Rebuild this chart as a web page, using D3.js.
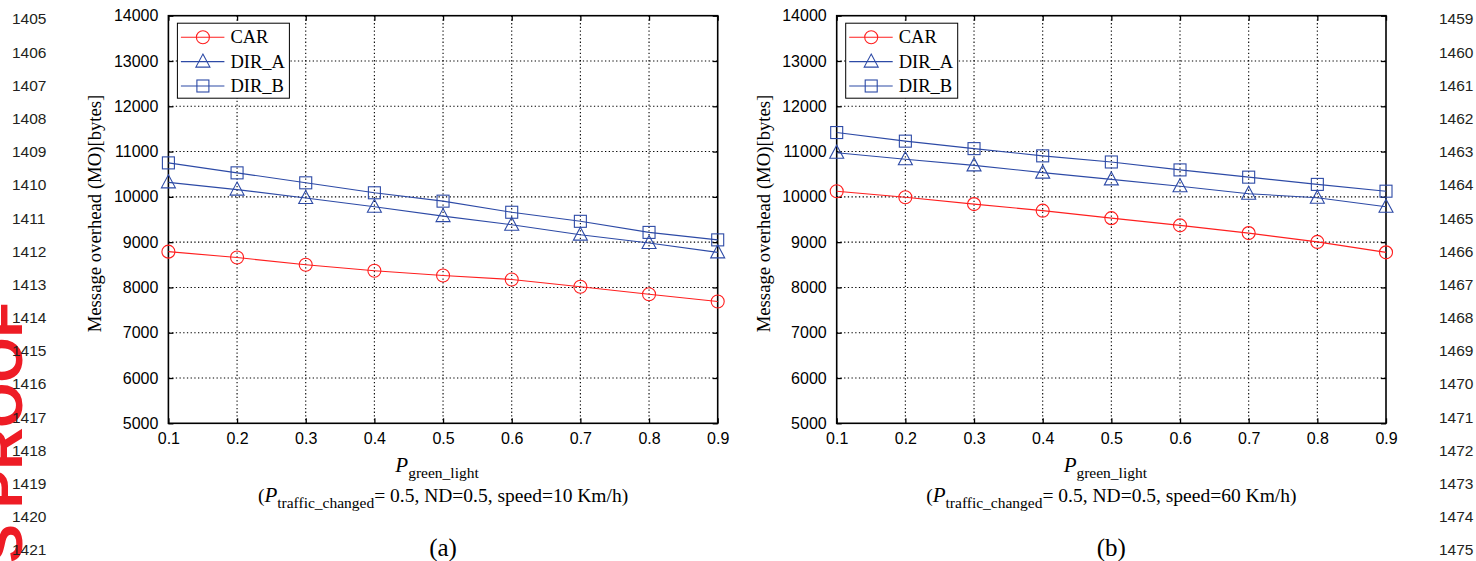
<!DOCTYPE html>
<html>
<head>
<meta charset="utf-8">
<script src="https://cdn.jsdelivr.net/npm/d3@7"></script>
<style>
  html, body { margin: 0; padding: 0; background: #fff; }
  svg { display: block; }
</style>
</head>
<body>
<svg id="fig" width="1476" height="561"></svg>
<script>
// ---- data ----
const pGreen = [0.1, 0.2, 0.3, 0.4, 0.5, 0.6, 0.7, 0.8, 0.9];
const xTicks = [0.1, 0.2, 0.3, 0.4, 0.5, 0.6, 0.7, 0.8, 0.9];
const yTicks = [5000, 6000, 7000, 8000, 9000, 10000, 11000, 12000, 13000, 14000];

// speed = 10 Km/h
const carSlow  = [8790, 8660, 8500, 8370, 8265, 8175, 8015, 7850, 7690];
const dirASlow = [10320, 10160, 9975, 9780, 9575, 9385, 9165, 8980, 8775];
const dirBSlow = [10750, 10530, 10310, 10090, 9905, 9660, 9460, 9215, 9050];

// speed = 60 Km/h
const carFast  = [10125, 9990, 9840, 9695, 9530, 9370, 9200, 9005, 8775];
const dirAFast = [10975, 10830, 10695, 10535, 10385, 10235, 10070, 9980, 9780];
const dirBFast = [11420, 11230, 11065, 10905, 10770, 10595, 10435, 10275, 10125];

const seriesNames = ["CAR", "DIR_A", "DIR_B"];
const leftLineNos = [1405, 1406, 1407, 1408, 1409, 1410, 1411, 1412, 1413, 1414, 1415, 1416, 1417, 1418, 1419, 1420, 1421];
const rightLineNos = [1459, 1460, 1461, 1462, 1463, 1464, 1465, 1466, 1467, 1468, 1469, 1470, 1471, 1472, 1473, 1474, 1475];

// ---- style ----
const RED = "#ff1f1f";
const BLUE = "#2d4aa6";
const SERIF = "'Liberation Serif', 'Times New Roman', serif";
const SANS = "'Liberation Sans', Arial, Helvetica, sans-serif";

const svg = d3.select("#fig");

// margin line numbers
function lineNumbers(nums, x, anchor) {
  const ys = d3.scaleLinear().domain([0, nums.length - 1]).range([19, 550]);
  svg.append("g").selectAll("text").data(nums).join("text")
    .attr("x", x).attr("y", (d, i) => ys(i))
    .attr("dy", "0.35em")
    .attr("text-anchor", anchor)
    .attr("font-family", SANS).attr("font-size", 15.5)
    .attr("fill", "#231f20")
    .text(d => d);
}

// proof stamp along the left edge
svg.append("text")
  .attr("transform", "translate(22,302) rotate(-90)")
  .attr("text-anchor", "end")
  .attr("font-family", SANS)
  .attr("font-size", 58)
  .attr("font-weight", "bold")
  .attr("fill", "#ee1c25")
  .text("AUTHOR'S PROOF");

lineNumbers(leftLineNos, 12, "start");
lineNumbers(rightLineNos, 1439, "start");

function marker(g, type, color) {
  if (type === "circle") {
    g.append("circle").attr("r", 6.5);
  } else if (type === "triangle") {
    g.append("path").attr("d", "M0,-7.5L7,5.5L-7,5.5Z");
  } else {
    g.append("rect").attr("x", -6).attr("y", -6).attr("width", 12).attr("height", 12);
  }
  g.selectAll("*").attr("fill", "none").attr("stroke", color).attr("stroke-width", 1.1);
}

function panel(opts) {
  const { x0, x1, y0, y1, series, speed, tag } = opts;
  const x = d3.scaleLinear().domain([0.1, 0.9]).range([x0, x1]);
  const y = d3.scaleLinear().domain([5000, 14000]).range([y1, y0]);
  const g = svg.append("g");

  // dotted grid
  g.append("g").selectAll("line").data(xTicks.slice(1, -1)).join("line")
    .attr("x1", d => x(d)).attr("x2", d => x(d)).attr("y1", y0).attr("y2", y1)
    .attr("stroke", "#000").attr("stroke-width", 1.1).attr("stroke-dasharray", "1.3,2.4");
  g.append("g").selectAll("line").data(yTicks.slice(1, -1)).join("line")
    .attr("y1", d => y(d)).attr("y2", d => y(d)).attr("x1", x0).attr("x2", x1)
    .attr("stroke", "#000").attr("stroke-width", 1.1).attr("stroke-dasharray", "1.3,2.4");

  // axes with inward ticks
  const fmtY = d3.format("d");
  const ax = [
    g.append("g").attr("transform", `translate(0,${y1})`)
      .call(d3.axisBottom(x).tickValues(xTicks).tickSize(-5).tickPadding(9).tickFormat(d3.format(".1f"))),
    g.append("g").attr("transform", `translate(0,${y0})`)
      .call(d3.axisTop(x).tickValues(xTicks).tickSize(-5).tickFormat("")),
    g.append("g").attr("transform", `translate(${x0},0)`)
      .call(d3.axisLeft(y).tickValues(yTicks).tickSize(-5).tickPadding(10).tickFormat(fmtY)),
    g.append("g").attr("transform", `translate(${x1},0)`)
      .call(d3.axisRight(y).tickValues(yTicks).tickSize(-5).tickFormat(""))
  ];
  ax.forEach(a => {
    a.select(".domain").remove();
    a.selectAll(".tick line").attr("stroke", "#000").attr("stroke-width", 1.3);
    a.selectAll("text").attr("font-family", SANS).attr("font-size", 16).attr("fill", "#000");
  });

  // box
  g.append("rect").attr("x", x0).attr("y", y0).attr("width", x1 - x0).attr("height", y1 - y0)
    .attr("fill", "none").attr("stroke", "#000").attr("stroke-width", 1.6);

  // series
  const line = d3.line().x((d, i) => x(pGreen[i])).y(d => y(d));
  series.forEach(s => {
    g.append("path").datum(s.values).attr("d", line)
      .attr("fill", "none").attr("stroke", s.color).attr("stroke-width", 1.1);
    s.values.forEach((v, i) => {
      const m = g.append("g").attr("transform", `translate(${x(pGreen[i])},${y(v)})`);
      marker(m, s.shape, s.color);
    });
  });

  // legend
  const lx = x0 + 9, ly = y0 + 7.5;
  const lg = g.append("g");
  lg.append("rect").attr("x", lx).attr("y", ly).attr("width", 112).attr("height", 75)
    .attr("fill", "#fff").attr("stroke", "#000").attr("stroke-width", 1);
  series.forEach((s, i) => {
    const cy = ly + 14 + i * 24.4;
    lg.append("line").attr("x1", lx + 3.5).attr("x2", lx + 47).attr("y1", cy).attr("y2", cy)
      .attr("stroke", s.color).attr("stroke-width", 1.1);
    const m = lg.append("g").attr("transform", `translate(${lx + 25.5},${cy})`);
    marker(m, s.shape, s.color);
    lg.append("text").attr("x", lx + 53).attr("y", cy).attr("dy", "0.34em")
      .attr("font-family", SERIF).attr("font-size", 18.5).attr("fill", "#000")
      .text(s.name);
  });

  const cx = (x0 + x1) / 2;

  // y label
  svg.append("text")
    .attr("transform", `translate(${x0 - 67},${(y0 + y1) / 2 - 6}) rotate(-90)`)
    .attr("text-anchor", "middle")
    .attr("font-family", SERIF).attr("font-size", 18.7).attr("fill", "#000")
    .text("Message overhead (MO)[bytes]");

  // x label
  const xl = svg.append("text").attr("x", cx - 6).attr("y", 472)
    .attr("text-anchor", "middle")
    .attr("font-family", SERIF).attr("fill", "#000");
  xl.append("tspan").attr("font-style", "italic").attr("font-size", 21).text("P");
  xl.append("tspan").attr("font-size", 15.5).attr("dy", 6).text("green_light");

  // condition caption
  const cap = svg.append("text").attr("x", cx).attr("y", 502)
    .attr("text-anchor", "middle")
    .attr("font-family", SERIF).attr("font-size", 19.5).attr("fill", "#000");
  cap.append("tspan").text("(");
  cap.append("tspan").attr("font-style", "italic").attr("font-size", 21).text("P");
  cap.append("tspan").attr("font-size", 15.5).attr("dy", 6).text("traffic_changed");
  cap.append("tspan").attr("dy", -6).text(`= 0.5, ND=0.5, speed=${speed} Km/h)`);

  // sub-figure tag
  svg.append("text").attr("x", cx).attr("y", 556)
    .attr("text-anchor", "middle")
    .attr("font-family", SERIF).attr("font-size", 25).attr("fill", "#000")
    .text(tag);
}

const shapes = ["circle", "triangle", "square"];
const colors = [RED, BLUE, BLUE];

panel({
  x0: 168.4, x1: 717.7, y0: 15.7, y1: 423.3, speed: 10, tag: "(a)",
  series: [carSlow, dirASlow, dirBSlow].map((v, i) => ({ name: seriesNames[i], values: v, shape: shapes[i], color: colors[i] }))
});
panel({
  x0: 836.7, x1: 1386, y0: 15.7, y1: 423.3, speed: 60, tag: "(b)",
  series: [carFast, dirAFast, dirBFast].map((v, i) => ({ name: seriesNames[i], values: v, shape: shapes[i], color: colors[i] }))
});
</script>
</body>
</html>
